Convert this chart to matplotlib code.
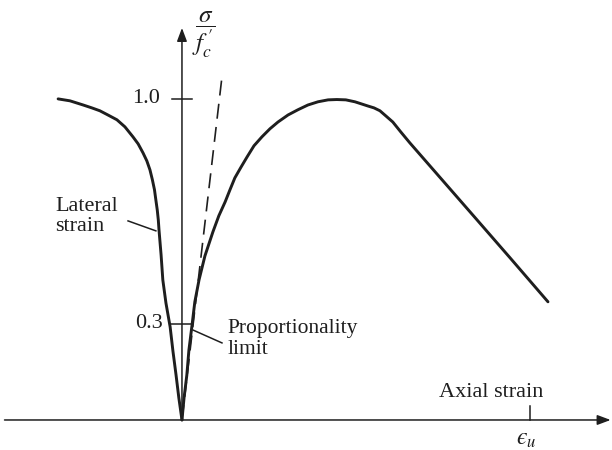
import numpy as np
import matplotlib
matplotlib.use("Agg")
import matplotlib.pyplot as plt

plt.rcParams["font.family"] = ["Liberation Serif", "DejaVu Serif"]
plt.rcParams["mathtext.fontset"] = "stix"

# curves (strain scaled so eps_u = 1, stress as sigma / f'c)
lat_strain = [-0.356, -0.322, -0.284, -0.259, -0.236, -0.213, -0.187, -0.164,
              -0.141, -0.126, -0.112, -0.101, -0.092, -0.085, -0.079, -0.075,
              -0.071, -0.068, -0.066, -0.060, -0.055, -0.046, -0.034, -0.026,
              -0.017, -0.009, 0.0]
lat_stress = [1.000, 0.994, 0.981, 0.972, 0.963, 0.950, 0.935, 0.913,
              0.882, 0.860, 0.832, 0.807, 0.779, 0.748, 0.717, 0.685,
              0.654, 0.623, 0.592, 0.514, 0.436, 0.364, 0.290, 0.215,
              0.140, 0.069, 0.0]

ax_strain = [0.0, 0.006, 0.014, 0.020, 0.029, 0.037, 0.049, 0.066, 0.089, 0.106,
             0.124, 0.138, 0.152, 0.170, 0.187, 0.207, 0.230, 0.253, 0.276, 0.305,
             0.333, 0.362, 0.391, 0.420, 0.445, 0.471, 0.497, 0.517, 0.534, 0.552,
             0.569, 0.586, 0.606, 0.629, 0.655, 0.750, 0.845, 0.943, 1.052]
ax_stress = [0.0, 0.069, 0.140, 0.218, 0.296, 0.368, 0.436, 0.511, 0.586, 0.636,
             0.679, 0.717, 0.754, 0.788, 0.819, 0.854, 0.882, 0.907, 0.928, 0.950,
             0.966, 0.981, 0.991, 0.997, 0.998, 0.997, 0.991, 0.984, 0.978, 0.972,
             0.963, 0.947, 0.928, 0.897, 0.863, 0.745, 0.627, 0.505, 0.368]

# initial tangent (dashed)
tan_strain = [0.0, 0.115]
tan_stress = [0.0, 1.069]

prop_limit = 0.3
peak = 1.0
eps_u = 1.0

ink = "#1e1e1e"

fig = plt.figure(figsize=(6.12, 4.5), dpi=100)
ax = fig.add_axes([0, 0, 1, 1])
ax.set_xlim(-0.523, 1.236)
ax.set_ylim(-0.0935, 1.308)
ax.axis("off")

# axes with arrows
arrow = dict(arrowstyle="-|>,head_length=0.8,head_width=0.3",
             lw=1.1, color=ink, shrinkA=0, shrinkB=0)
ax.annotate("", xy=(1.232, 0), xytext=(-0.51, 0), arrowprops=arrow)
ax.annotate("", xy=(0, 1.221), xytext=(0, 0), arrowprops=arrow)

# curves
ax.plot(lat_strain, lat_stress, color=ink, lw=2.1, solid_capstyle="round",
        solid_joinstyle="round")
ax.plot(ax_strain, ax_stress, color=ink, lw=2.1, solid_capstyle="round",
        solid_joinstyle="round")
ax.plot(tan_strain, tan_stress, color=ink, lw=1.2, dashes=(9, 5))

# ticks
ax.plot([-0.029, 0.029], [peak, peak], color=ink, lw=1.1)
x_lat = np.interp(prop_limit, lat_stress[::-1], lat_strain[::-1])
x_ax = np.interp(prop_limit, ax_stress[:10], ax_strain[:10])
ax.plot([x_lat, x_ax], [prop_limit, prop_limit], color=ink, lw=1.1)
ax.plot([eps_u, eps_u], [0, 0.044], color=ink, lw=1.1)

fs = 16
ax.text(-0.063, peak, "1.0", fontsize=fs, ha="right", va="center", color=ink)
ax.text(-0.055, prop_limit, "0.3", fontsize=fs, ha="right", va="center", color=ink)
ax.text(0.062, 1.200, r"$\dfrac{\sigma}{f^{\,\prime}_{c}}$", fontsize=18,
        ha="center", va="center", color=ink)

ax.text(-0.365, 0.695, "Lateral\nstrain", fontsize=fs, ha="left", va="top",
        linespacing=1.1, color=ink)
ax.plot([-0.155, -0.075], [0.620, 0.589], color=ink, lw=1.1)

ax.text(0.132, 0.314, "Proportionality\nlimit", fontsize=15.5, ha="left",
        va="top", linespacing=1.1, color=ink)
ax.plot([0.032, 0.115], [0.280, 0.240], color=ink, lw=1.1)

ax.text(0.739, 0.072, "Axial strain", fontsize=fs, ha="left", va="baseline",
        color=ink)
ax.text(eps_u - 0.01, -0.062, "$\u03f5_u$", fontsize=17, ha="center",
        va="center", color=ink)

fig.savefig("out.png", dpi=100, facecolor="white")
